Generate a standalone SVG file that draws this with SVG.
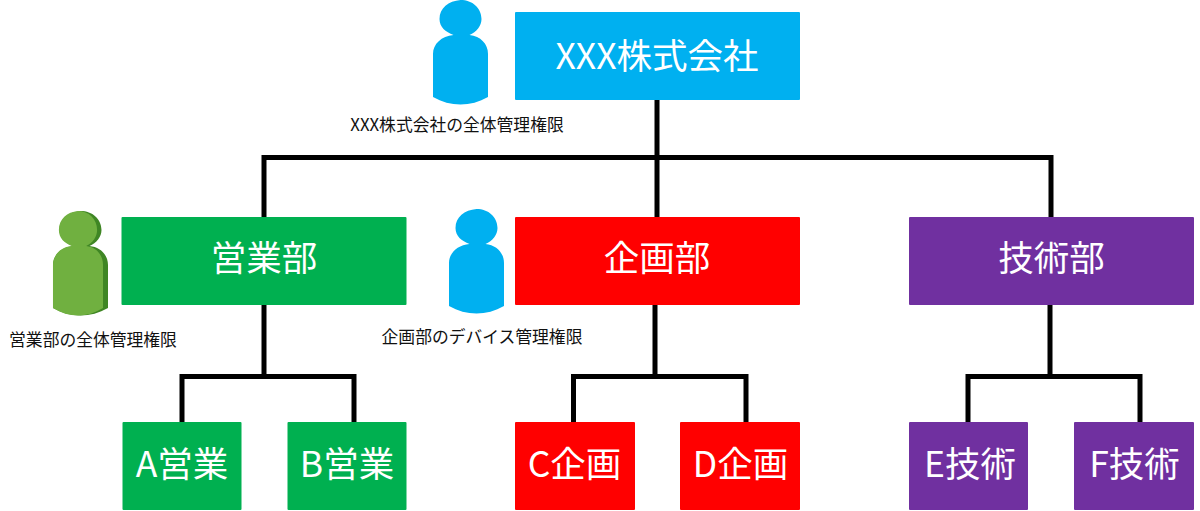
<svg xmlns="http://www.w3.org/2000/svg" width="1200" height="511" viewBox="0 0 1200 511">
<defs>
<path id="p" d="M-7 35C-15 32-21 27-21 19C-21 8-12 1 0 0C12 0 21 8 21 19C21 26 16 32 9 35C20 36 27.500 44 27.500 54V97C10 107-10 107-27.500 97V54C-27.500 44-19 36-7 35Z"/>
</defs>
<style>
.c{fill:none;stroke:#000;stroke-width:5}
.t{font-family:"Noto Sans CJK JP","Noto Sans",sans-serif;fill:#fff;text-anchor:middle;dominant-baseline:central;font-weight:400}
.l{font-size:35.500px}.s{font-size:35.500px}
.n{font-family:"Noto Sans CJK JP","Noto Sans",sans-serif;font-size:16.800px;fill:#111;text-anchor:middle;font-weight:400}
.b{fill:#00b0f0}.g{fill:#00b050}.r{fill:#f00}.v{fill:#7030a0}
</style>
<g id="connectors">
<path class="c" d="M657 98V217M264 217V157.500H1051V217"/>
<path class="c" d="M264 303V376M182 423V376.500H354V423"/>
<path class="c" d="M655 303V376M573.500 423V376.500H746V423"/>
<path class="c" d="M1050 303V376M968 423V376.500H1140V423"/>
</g>
<g id="root"><rect class="b" x="515" y="12" width="285" height="88" rx="1"/><text class="t l" x="657" y="53">XXX株式会社</text></g>
<g id="sales"><rect class="g" x="121.500" y="217" width="285" height="88" rx="1"/><text class="t l" x="264" y="255">営業部</text></g>
<g id="plan"><rect class="r" x="515" y="217" width="285" height="88" rx="1"/><text class="t l" x="657" y="255">企画部</text></g>
<g id="tech"><rect class="v" x="909" y="217" width="285" height="88" rx="1"/><text class="t l" x="1051.500" y="255">技術部</text></g>
<g id="a"><rect class="g" x="122.500" y="422" width="119" height="88" rx="1"/><text class="t s" x="182" y="461">A営業</text></g>
<g id="b"><rect class="g" x="287.500" y="422" width="119" height="88" rx="1"/><text class="t s" x="347" y="461">B営業</text></g>
<g id="c"><rect class="r" x="515" y="422" width="120" height="88" rx="1"/><text class="t s" x="574.500" y="461">C企画</text></g>
<g id="d"><rect class="r" x="680" y="422" width="120" height="88" rx="1"/><text class="t s" x="740.500" y="461">D企画</text></g>
<g id="e"><rect class="v" x="909" y="422" width="119" height="88" rx="1"/><text class="t s" x="970" y="461">E技術</text></g>
<g id="f"><rect class="v" x="1074" y="422" width="120" height="88" rx="1"/><text class="t s" x="1134.500" y="461">F技術</text></g>
<g id="admin-root"><use href="#p" class="b" x="460.500" y="0"/><text class="n" x="457" y="131">XXX株式会社の全体管理権限</text></g>
<g id="admin-sales"><use href="#p" x="80.500" y="211" fill="#3f8624"/><use href="#p" transform="translate(78 211) scale(.91 1)" fill="#70b040"/><text class="n" x="93" y="346">営業部の全体管理権限</text></g>
<g id="admin-plan"><use href="#p" class="b" x="476.500" y="209"/><text class="n" x="482" y="343">企画部のデバイス管理権限</text></g>
</svg>
